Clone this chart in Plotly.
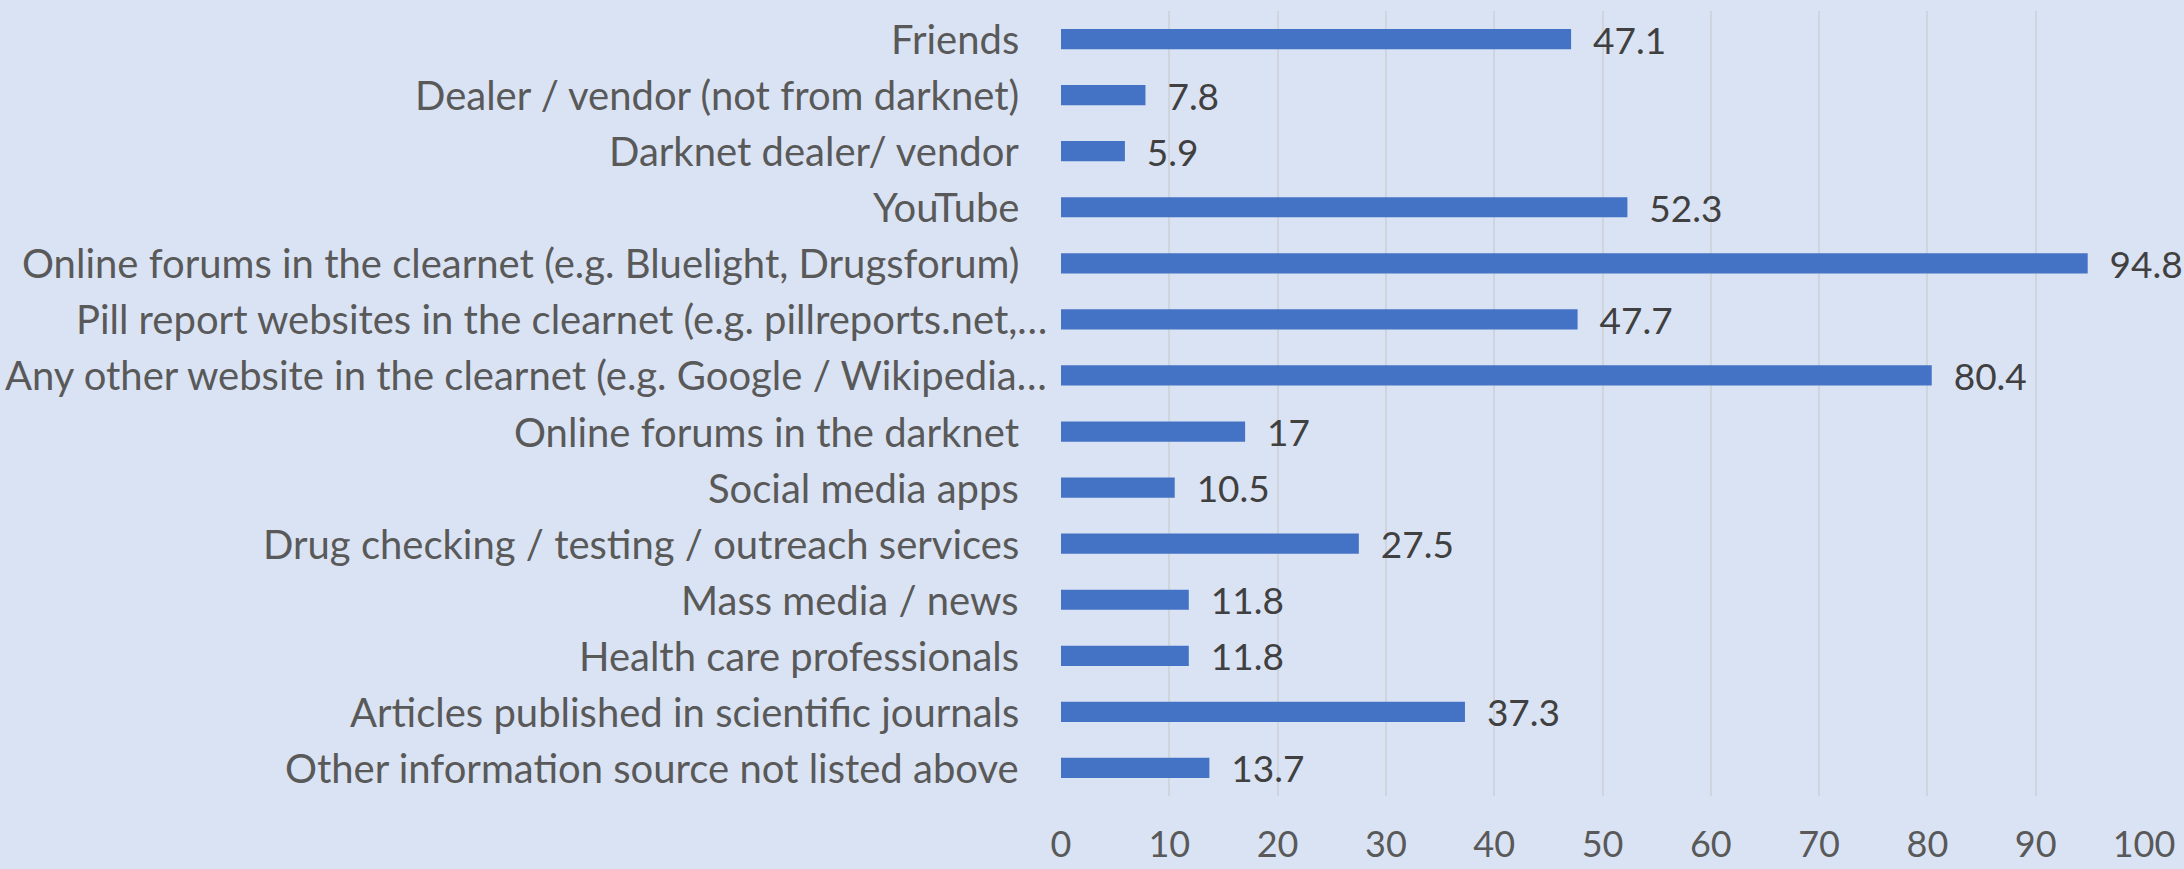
import plotly.graph_objects as go

categories = [
    "Friends",
    "Dealer / vendor (not from darknet)",
    "Darknet dealer/ vendor",
    "YouTube",
    "Online forums in the clearnet (e.g. Bluelight, Drugsforum)",
    "Pill report websites in the clearnet (e.g. pillreports.net,…",
    "Any other website in the clearnet (e.g. Google / Wikipedia…",
    "Online forums in the darknet",
    "Social media apps",
    "Drug checking / testing / outreach services",
    "Mass media / news",
    "Health care professionals",
    "Articles published in scientific journals",
    "Other information source not listed above",
]
values = [47.1, 7.8, 5.9, 52.3, 94.8, 47.7, 80.4, 17, 10.5, 27.5, 11.8, 11.8, 37.3, 13.7]
x_ticks = [0, 10, 20, 30, 40, 50, 60, 70, 80, 90, 100]

FONT = "Lato"
BG = "#DAE3F3"

fig = go.Figure()
fig.add_trace(go.Bar(
    x=values,
    y=categories,
    orientation="h",
    marker=dict(color="#4472C4", line=dict(width=0)),
    text=["\u00a0\u00a0" + (f"{v:g}") for v in values],
    textposition="outside",
    constraintext="none",
    textfont=dict(family=FONT, size=37, color="#404040"),
    cliponaxis=False,
))

for c in categories:
    truncated = c.endswith("…")
    fig.add_annotation(
        x=0, xref="paper", y=c, yref="y",
        text=c, showarrow=False, xanchor="right", yanchor="middle",
        xshift=-12 if truncated else -40,
        font=dict(family=FONT, size=40, color="#595959"),
    )

fig.update_layout(
    width=2184, height=869,
    paper_bgcolor=BG, plot_bgcolor=BG,
    margin=dict(l=1061, r=40, t=11, b=73, autoexpand=False),
    bargap=0.64,
    showlegend=False,
    xaxis=dict(
        range=[0, 100], tickvals=x_ticks, showgrid=True, gridcolor="#D0D4DC", gridwidth=1.5,
        zeroline=False, showline=False, ticks="", automargin=False,
        tickfont=dict(family=FONT, size=36, color="#595959"),
        ticklabelstandoff=24,
    ),
    yaxis=dict(
        categoryorder="array", categoryarray=categories, range=[13.5, -0.5],
        showticklabels=False, showgrid=False, zeroline=False, showline=False, ticks="",
        automargin=False,
    ),
)

fig.write_html(
    "out.html",
    config={"displayModeBar": False},
    post_script="document.body.style.margin='0';document.body.style.overflow='hidden';",
)
